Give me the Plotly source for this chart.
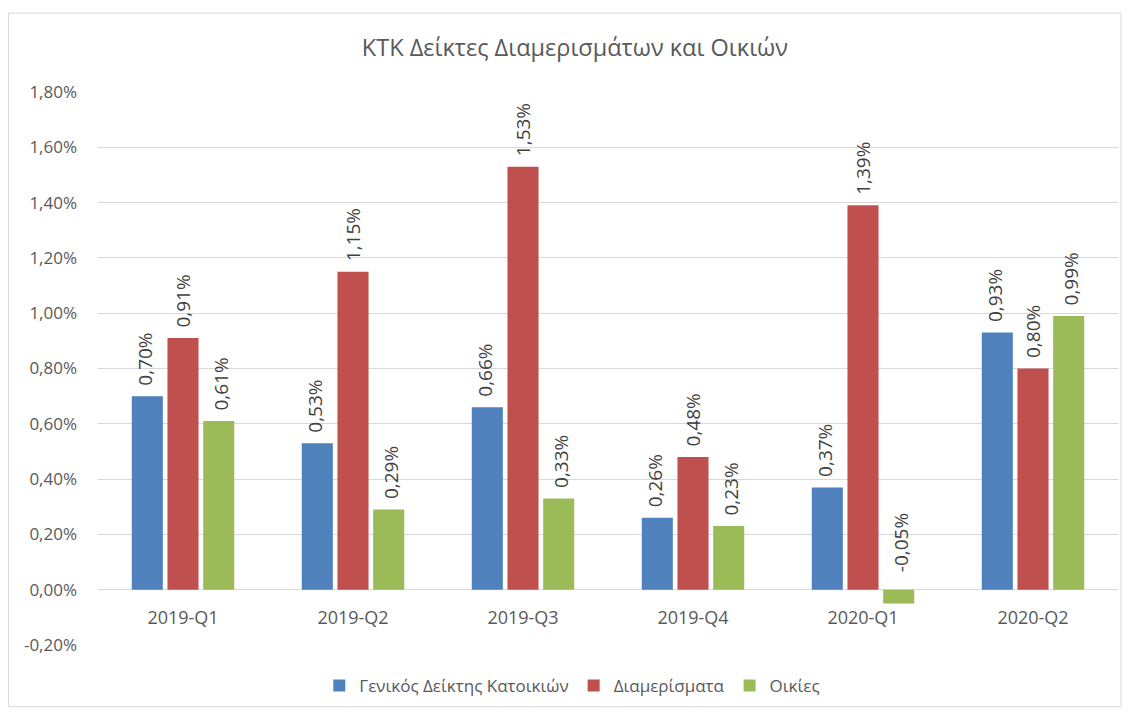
import plotly.graph_objects as go

# ── Data ──────────────────────────────────────────────────────────────────────
quarters = ["2019-Q1", "2019-Q2", "2019-Q3", "2019-Q4", "2020-Q1", "2020-Q2"]
genikos = [0.70, 0.53, 0.66, 0.26, 0.37, 0.93]
diamerismata = [0.91, 1.15, 1.53, 0.48, 1.39, 0.80]
oikies = [0.61, 0.29, 0.33, 0.23, -0.05, 0.99]

y_ticks = [-0.2, 0.0, 0.2, 0.4, 0.6, 0.8, 1.0, 1.2, 1.4, 1.6, 1.8]
y_ticktext = [f"{v:.2f}%".replace(".", ",") for v in y_ticks]

series = [
    ("Γενικός Δείκτης Κατοικιών", genikos, "#4F81BD", -38),
    ("Διαμερίσματα", diamerismata, "#C0504D", 0),
    ("Οικίες", oikies, "#9BBB59", 38),
]

FONT = "Open Sans, sans-serif"
TXT = "#595959"

fig = go.Figure()
annotations = []
for name, vals, color, shift in series:
    fig.add_trace(go.Bar(
        x=quarters, y=vals, name=name,
        marker=dict(color=color, line=dict(width=0)),
    ))
    # rotated data labels, Excel-style (always above the zero line)
    for q, v in zip(quarters, vals):
        annotations.append(dict(
            x=q, y=max(v, 0), xref="x", yref="y",
            text=f"{v:.2f}%".replace(".", ","),
            textangle=-90, showarrow=False,
            xanchor="center", yanchor="bottom",
            xshift=shift, yshift=8 if v >= 0 else 15,
            font=dict(family=FONT, size=19, color="#404040"),
        ))

# body margin is 8px on every side, so keep the page inside the window
fig.update_layout(
    width=1116, height=701,
    paper_bgcolor="white", plot_bgcolor="white",
    margin=dict(l=90, r=6, t=84, b=63),
    barmode="group", bargap=0.37, bargroupgap=0.13,
    title=dict(
        text="ΚΤΚ Δείκτες Διαμερισμάτων και Οικιών",
        x=0.508, xref="container", xanchor="center",
        y=0.943, yref="container", yanchor="middle",
        font=dict(family=FONT, size=23.5, color=TXT),
    ),
    font=dict(family=FONT, size=14, color=TXT),
    legend=dict(
        orientation="h", x=0.465, xanchor="center",
        y=-0.072, yanchor="middle",
        font=dict(family=FONT, size=17, color=TXT),
        itemwidth=30, traceorder="normal",
    ),
    annotations=annotations,
    shapes=[dict(
        type="rect", xref="paper", yref="paper",
        x0=-0.0877, x1=1.0029, y0=-0.1115, y1=1.1426,
        line=dict(color="#d9d9d9", width=1), layer="below",
    )],
)

fig.update_xaxes(
    type="category", anchor="free", position=0.0993,
    showgrid=False, showline=False, ticks="", ticklabelstandoff=15,
    tickfont=dict(family=FONT, size=18, color=TXT),
)
fig.update_yaxes(
    range=[-0.2, 1.8], tickvals=y_ticks, ticktext=y_ticktext,
    showgrid=True, gridcolor="#d9d9d9", gridwidth=1,
    zeroline=True, zerolinecolor="#d9d9d9", zerolinewidth=1,
    showline=False, ticks="", ticklabelstandoff=20,
    tickfont=dict(family=FONT, size=17, color=TXT),
)

fig.write_html("out.html")
